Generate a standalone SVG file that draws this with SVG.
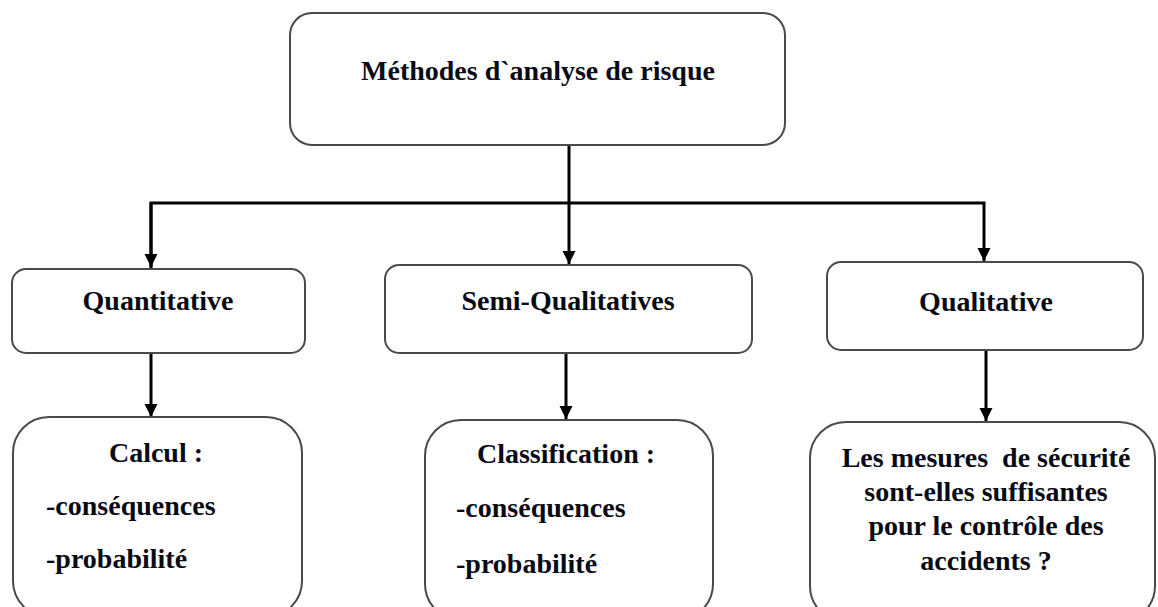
<svg xmlns="http://www.w3.org/2000/svg" width="1158" height="607" viewBox="0 0 1158 607">
  <style>
    .box { fill: #ffffff; stroke: #4a4a4a; stroke-width: 2; }
    .lbl { font-family: "Liberation Serif", "Times New Roman", serif; font-weight: bold; font-size: 28px; fill: #0a0a14; }
    .mid { text-anchor: middle; }
    .wire { fill: none; stroke: #000000; stroke-width: 3; }
  </style>
  <defs>
    <marker id="arrow" viewBox="0 0 10 10" refX="10" refY="5" markerWidth="4.4" markerHeight="5" markerUnits="strokeWidth" orient="auto">
      <path d="M0,0 L10,5 L0,10 Z" fill="#000000"/>
    </marker>
  </defs>
  <rect width="1158" height="607" fill="#ffffff"/>

  <g id="connectors">
    <line class="wire" x1="569" y1="145" x2="569" y2="264" marker-end="url(#arrow)"/>
    <polyline class="wire" points="151,268 151,203 984,203 984,261" marker-end="url(#arrow)"/>
    <line class="wire" x1="151" y1="203" x2="151" y2="267" marker-end="url(#arrow)"/>
    <line class="wire" x1="151" y1="354" x2="151" y2="417" marker-end="url(#arrow)"/>
    <line class="wire" x1="566" y1="354" x2="566" y2="419" marker-end="url(#arrow)"/>
    <line class="wire" x1="986" y1="351" x2="986" y2="421" marker-end="url(#arrow)"/>
  </g>

  <g id="root">
    <rect class="box" x="290" y="13" width="495" height="132" rx="22"/>
    <text class="lbl mid" x="538" y="80" font-size="26">Méthodes d`analyse de risque</text>
  </g>

  <g id="quantitative">
    <rect class="box" x="12" y="269" width="293" height="84" rx="14"/>
    <text class="lbl mid" x="158" y="310">Quantitative</text>
  </g>

  <g id="semi-qualitatives">
    <rect class="box" x="385" y="265" width="367" height="88" rx="14"/>
    <text class="lbl mid" x="568" y="310">Semi-Qualitatives</text>
  </g>

  <g id="qualitative">
    <rect class="box" x="827" y="262" width="316" height="88" rx="14"/>
    <text class="lbl mid" x="986" y="311">Qualitative</text>
  </g>

  <g id="calcul">
    <rect class="box" x="13" y="417" width="289" height="200" rx="36"/>
    <text class="lbl mid" x="156" y="462">Calcul :</text>
    <text class="lbl" x="46" y="515">-conséquences</text>
    <text class="lbl" x="46" y="568">-probabilité</text>
  </g>

  <g id="classification">
    <rect class="box" x="425" y="420" width="288" height="200" rx="36"/>
    <text class="lbl mid" x="566" y="463">Classification :</text>
    <text class="lbl" x="456" y="517">-conséquences</text>
    <text class="lbl" x="456" y="573">-probabilité</text>
  </g>

  <g id="mesures">
    <rect class="box" x="810" y="422" width="345" height="200" rx="36"/>
    <text class="lbl mid" xml:space="preserve" x="986" y="467">Les mesures  de sécurité</text>
    <text class="lbl mid" x="986" y="501">sont-elles suffisantes</text>
    <text class="lbl mid" x="986" y="535">pour le contrôle des</text>
    <text class="lbl mid" x="986" y="570">accidents ?</text>
  </g>
</svg>
